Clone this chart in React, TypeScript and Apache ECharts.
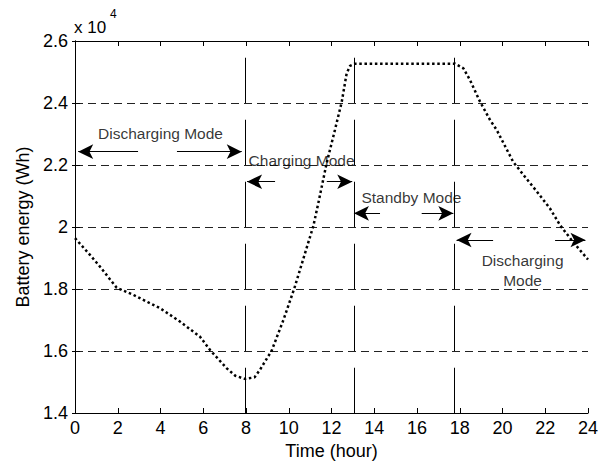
import React, { useEffect, useRef } from "react";
import * as echarts from "echarts";

// Battery energy curve (hour, Wh)
const hours = [0, 0.7, 1.17, 1.95, 2.73, 3.51, 3.98, 4.91, 5.85, 6.32, 7.1, 7.5, 7.95, 8.4, 8.65, 9.2, 9.75, 10.26, 10.76, 11.15, 11.38, 11.77, 12.16, 12.48, 12.71, 12.87, 13.1, 15.5, 17.78, 18.17, 18.48, 18.95, 19.42, 19.73, 20.5, 21.13, 21.6, 22.22, 22.7, 23.31, 24];
const energyWh = [19640, 19100, 18720, 18040, 17810, 17540, 17380, 16950, 16460, 16030, 15440, 15200, 15100, 15150, 15390, 16010, 17000, 18020, 19150, 20030, 20760, 22050, 23130, 24040, 24960, 25200, 25270, 25270, 25270, 25120, 24740, 24040, 23450, 23130, 22100, 21550, 21150, 20600, 20050, 19510, 18950];

// Mode boundaries (hour)
const modeBoundaries = [7.95, 13.05, 17.75];
const boundaryGridValues = [26000, 24000, 22000, 20000, 18000, 16000];

// Arrows (hour -> hour at energy level Wh)
const arrowFrom = [2.95, 4.77, 9.36, 11.78, 14.27, 16.22, 19.56, 22.46];
const arrowTo = [0.15, 7.8, 8.05, 12.97, 13.05, 17.7, 17.85, 23.88];
const arrowY = [22430, 22430, 21460, 21460, 20440, 20440, 19580, 19580];

// Mode labels
const modeLabels = ["Discharging Mode", "Charging Mode", "Standby Mode", "Discharging\nMode"];
const labelX = [4.0, 10.6, 15.74, 20.94];
const labelY = [23030, 22160, 20950, 18600];

const FONT = "Liberation Sans, Arial, sans-serif";

export default function App() {
  const ref = useRef<HTMLDivElement>(null);
  useEffect(() => {
    if (!ref.current) return;
    const chart = echarts.init(ref.current, undefined, { renderer: "svg" });
    const segs: any[] = [];
    modeBoundaries.forEach((b) => {
      boundaryGridValues.forEach((g) => {
        segs.push([{ coord: [b, g - 540] }, { coord: [b, g - 2000] }]);
      });
    });
    const arrows = arrowFrom.map((f, i) => [
      { coord: [f, arrowY[i]] },
      { coord: [arrowTo[i], arrowY[i]] },
    ]);
    const axisCommon = {
      type: "value" as const,
      axisLine: { show: true, lineStyle: { color: "#000", width: 1 } },
      axisTick: { show: true, inside: true, length: 5, lineStyle: { color: "#000" } },
    };
    chart.setOption({
      animation: false,
      backgroundColor: "#fff",
      textStyle: { fontFamily: FONT },
      grid: { left: 75, right: 20, top: 41, bottom: 52 },
      xAxis: [
        {
          ...axisCommon,
          min: 0,
          max: 24,
          interval: 2,
          position: "bottom",
          name: "Time (hour)",
          nameLocation: "middle",
          nameGap: 28,
          nameTextStyle: { fontSize: 18, color: "#000", fontFamily: FONT },
          axisLabel: { fontSize: 18, color: "#000", margin: 6, fontFamily: FONT },
          splitLine: { show: false },
        },
        {
          ...axisCommon,
          min: 0,
          max: 24,
          interval: 2,
          position: "top",
          axisLabel: { show: false },
          splitLine: { show: false },
        },
      ],
      yAxis: [
        {
          ...axisCommon,
          min: 14000,
          max: 26000,
          interval: 2000,
          position: "left",
          name: "Battery energy (Wh)",
          nameLocation: "middle",
          nameGap: 41,
          nameRotate: 90,
          nameTextStyle: { fontSize: 18, color: "#000", fontFamily: FONT },
          axisLabel: {
            fontSize: 18,
            color: "#000",
            margin: 7,
            fontFamily: FONT,
            formatter: (v: number) => String(+(v / 10000).toFixed(1)),
          },
          splitLine: { show: true, lineStyle: { color: "#222", width: 1, type: [8, 5] } },
        },
        {
          ...axisCommon,
          min: 14000,
          max: 26000,
          interval: 2000,
          position: "right",
          axisTick: { show: true, inside: true, length: 3, lineStyle: { color: "#000" } },
          axisLabel: { show: false },
          splitLine: { show: false },
        },
      ],
      graphic: [
        {
          type: "text",
          left: 74,
          top: 19,
          style: { text: "x 10", font: "17px 'Liberation Sans'", fill: "#000" },
        },
        {
          type: "text",
          left: 110,
          top: 8,
          style: { text: "4", font: "12px 'Liberation Sans'", fill: "#000" },
        },
      ],
      series: [
        {
          type: "line",
          data: hours.map((h, i) => [h, energyWh[i]]),
          showSymbol: false,
          smooth: false,
          lineStyle: { color: "#000", width: 2.5, type: [2.5, 2.7], cap: "butt" },
          silent: true,
          z: 3,
        },
        {
          type: "scatter",
          symbolSize: 0,
          silent: true,
          data: labelX.map((x, i) => ({ value: [x, labelY[i]], name: modeLabels[i] })),
          label: {
            show: true,
            position: "inside",
            formatter: (p: any) => p.name,
            fontSize: 15.5,
            lineHeight: 20,
            color: "#000",
            fontFamily: FONT,
            align: "center",
          },
          markLine: {
            silent: true,
            animation: false,
            symbol: ["none", "none"],
            label: { show: false },
            lineStyle: { color: "#000", width: 1, type: "solid" },
            data: segs,
          },
          z: 4,
        },
        {
          type: "scatter",
          symbolSize: 0,
          silent: true,
          data: [],
          markLine: {
            silent: true,
            animation: false,
            symbol: ["none", "arrow"],
            symbolSize: [11, 15],
            label: { show: false },
            lineStyle: { color: "#000", width: 1, type: "solid" },
            itemStyle: { color: "#000" },
            data: arrows,
          },
          z: 5,
        },
      ],
    });
    return () => chart.dispose();
  }, []);
  return <div ref={ref} style={{ position: "fixed", left: 0, top: 0, width: 608, height: 465, background: "#fff" }} />;
}
